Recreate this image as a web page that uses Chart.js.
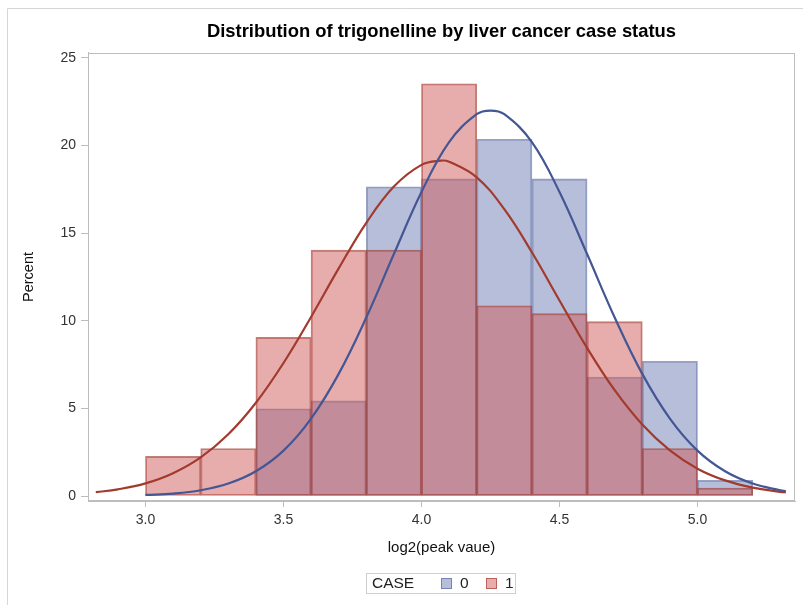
<!DOCTYPE html>
<html>
<head>
<meta charset="utf-8">
<script src="https://cdn.jsdelivr.net/npm/chart.js@4.4.0/dist/chart.umd.min.js"></script>
<style>
html,body{margin:0;padding:0;background:#fff;}
#wrap{width:803px;height:605px;position:relative;}
</style>
</head>
<body>
<div id="wrap"><canvas id="c" width="803" height="605"></canvas></div>
<script>
// ---- data ----
const binCenters = [3.1, 3.3, 3.5, 3.7, 3.9, 4.1, 4.3, 4.5, 4.7, 4.9, 5.1];
const case0Pct = [0, 0, 4.98, 5.43, 17.65, 18.10, 20.36, 18.10, 6.79, 7.69, 0.90];
const case1Pct = [2.26, 2.71, 9.05, 14.03, 14.03, 23.53, 10.86, 10.41, 9.95, 2.71, 0.45];

const curve0X = [3.0, 3.1, 3.2, 3.3, 3.4, 3.5, 3.6, 3.7, 3.8, 3.9, 4.0, 4.1, 4.2, 4.25, 4.3, 4.4, 4.5, 4.6, 4.7, 4.8, 4.9, 5.0, 5.1, 5.2, 5.3, 5.32];
const curve0Y = [0.06, 0.14, 0.33, 0.71, 1.41, 2.59, 4.42, 6.97, 10.19, 13.81, 17.35, 20.20, 21.79, 22.0, 21.79, 20.20, 17.35, 13.81, 10.19, 6.97, 4.42, 2.59, 1.41, 0.71, 0.33, 0.28];

const curve1X = [2.82, 2.9, 3.0, 3.1, 3.2, 3.3, 3.4, 3.5, 3.6, 3.7, 3.8, 3.9, 4.0, 4.07, 4.1, 4.2, 4.3, 4.4, 4.5, 4.6, 4.7, 4.8, 4.9, 5.0, 5.1, 5.2, 5.3, 5.32];
const curve1Y = [0.22, 0.38, 0.72, 1.30, 2.20, 3.52, 5.32, 7.59, 10.22, 12.99, 15.59, 17.66, 18.90, 19.14, 19.08, 18.19, 16.37, 13.91, 11.16, 8.45, 6.04, 4.08, 2.60, 1.56, 0.89, 0.48, 0.24, 0.21];

const xTicks = [3.0, 3.5, 4.0, 4.5, 5.0];
const yTicks = [0, 5, 10, 15, 20, 25];
const seriesNames = ['0', '1'];
const legendTitle = 'CASE';

// ---- styling ----
const FONT = '"Liberation Sans", Arial, Helvetica, sans-serif';
Chart.defaults.font.family = FONT;
const blueFill = 'rgba(111,126,179,0.5)';
const redFill = 'rgba(208,91,91,0.5)';
const blueEdge = 'rgba(68,86,148,0.55)';
const redEdge = 'rgba(162,58,46,0.65)';
const axisColor = '#BDBDBD';

const framePlugin = {
  id: 'frame',
  beforeDraw(chart) {
    const ctx = chart.ctx;
    ctx.save();
    ctx.strokeStyle = '#D6D6D6';
    ctx.lineWidth = 1;
    ctx.beginPath();
    ctx.moveTo(7.5, 605); ctx.lineTo(7.5, 8.5); ctx.lineTo(803, 8.5);
    ctx.stroke();
    ctx.restore();
  },
  afterDraw(chart) {
    const {ctx, chartArea: a} = chart;
    ctx.save();
    ctx.strokeStyle = axisColor;
    ctx.lineWidth = 1;
    ctx.strokeRect(Math.round(a.left) + 0.5, Math.round(a.top) + 0.5,
                   Math.round(a.right - a.left) - 1, Math.round(a.bottom - a.top) - 1);
    // legend
    const bx = 366.5, by = 573.5, bw = 149, bh = 20;
    ctx.strokeStyle = '#CFCFCF';
    ctx.strokeRect(bx, by, bw, bh);
    ctx.font = '15.5px ' + FONT;
    ctx.fillStyle = '#222';
    ctx.textBaseline = 'middle';
    ctx.textAlign = 'left';
    ctx.fillText(legendTitle, 372, by + bh / 2 + 0.5);
    const items = [[441, blueFill, blueEdge, seriesNames[0]], [486, redFill, redEdge, seriesNames[1]]];
    for (const [x, f, e, t] of items) {
      ctx.fillStyle = f;
      ctx.fillRect(x, 578, 11, 11);
      ctx.strokeStyle = e;
      ctx.strokeRect(x + 0.5, 578.5, 10, 10);
      ctx.fillStyle = '#222';
      ctx.fillText(t, x + 19, by + bh / 2 + 0.5);
    }
    ctx.restore();
  }
};

new Chart(document.getElementById('c'), {
  type: 'bar',
  data: {
    datasets: [
      {
        type: 'line', label: 'Normal 0', order: 0,
        data: curve0X.map((x, i) => ({x, y: curve0Y[i]})),
        borderColor: '#445694', borderWidth: 2.2, pointRadius: 0, tension: 0.4, fill: false
      },
      {
        type: 'line', label: 'Normal 1', order: 1,
        data: curve1X.map((x, i) => ({x, y: curve1Y[i]})),
        borderColor: '#A23A2E', borderWidth: 2.2, pointRadius: 0, tension: 0.4, fill: false
      },
      {
        type: 'bar', label: seriesNames[1], order: 2,
        data: binCenters.map((x, i) => ({x, y: case1Pct[i]})),
        backgroundColor: redFill, borderColor: redEdge, borderWidth: 1.2, borderSkipped: false,
        barPercentage: 1, categoryPercentage: 1, grouped: false
      },
      {
        type: 'bar', label: seriesNames[0], order: 3,
        data: binCenters.map((x, i) => ({x, y: case0Pct[i]})),
        backgroundColor: blueFill, borderColor: blueEdge, borderWidth: 1.2, borderSkipped: false,
        barPercentage: 1, categoryPercentage: 1, grouped: false
      }
    ]
  },
  options: {
    responsive: false,
    animation: false,
    events: [],
    layout: {padding: {left: 0, right: 8, top: 0, bottom: 44}},
    plugins: {
      legend: {display: false},
      tooltip: {enabled: false},
      title: {
        display: true, fullSize: false,
        text: 'Distribution of trigonelline by liver cancer case status',
        font: {size: 18.4, weight: 'bold'}, color: '#000',
        padding: {top: 21, bottom: 9.9}
      }
    },
    scales: {
      x: {
        type: 'linear', min: 2.7917, max: 5.3533, offset: false,
        grid: {display: true, drawOnChartArea: false, drawTicks: true, tickLength: 6, color: axisColor, offset: false},
        border: {display: true, color: axisColor},
        ticks: {padding: 5, font: {size: 14}, color: '#333', maxRotation: 0, callback: v => Number(v).toFixed(1)},
        afterBuildTicks: s => { s.ticks = xTicks.map(v => ({value: v})); },
        afterFit: s => { s.height = 60; },
        title: {display: true, text: 'log2(peak vaue)', font: {size: 15}, color: '#111', padding: {top: 0, bottom: 4}}
      },
      y: {
        type: 'linear', min: -0.285, max: 25.285,
        grid: {display: true, drawOnChartArea: false, drawTicks: true, tickLength: 7, color: axisColor},
        border: {display: true, color: axisColor},
        ticks: {padding: 5, font: {size: 14}, color: '#333', callback: v => String(v)},
        afterBuildTicks: s => { s.ticks = yTicks.map(v => ({value: v})); },
        afterFit: s => { s.width = 88; },
        title: {display: true, text: 'Percent', font: {size: 14.5}, color: '#111', padding: {top: 20.3, bottom: 0}}
      }
    }
  },
  plugins: [framePlugin]
});
</script>
</body>
</html>
